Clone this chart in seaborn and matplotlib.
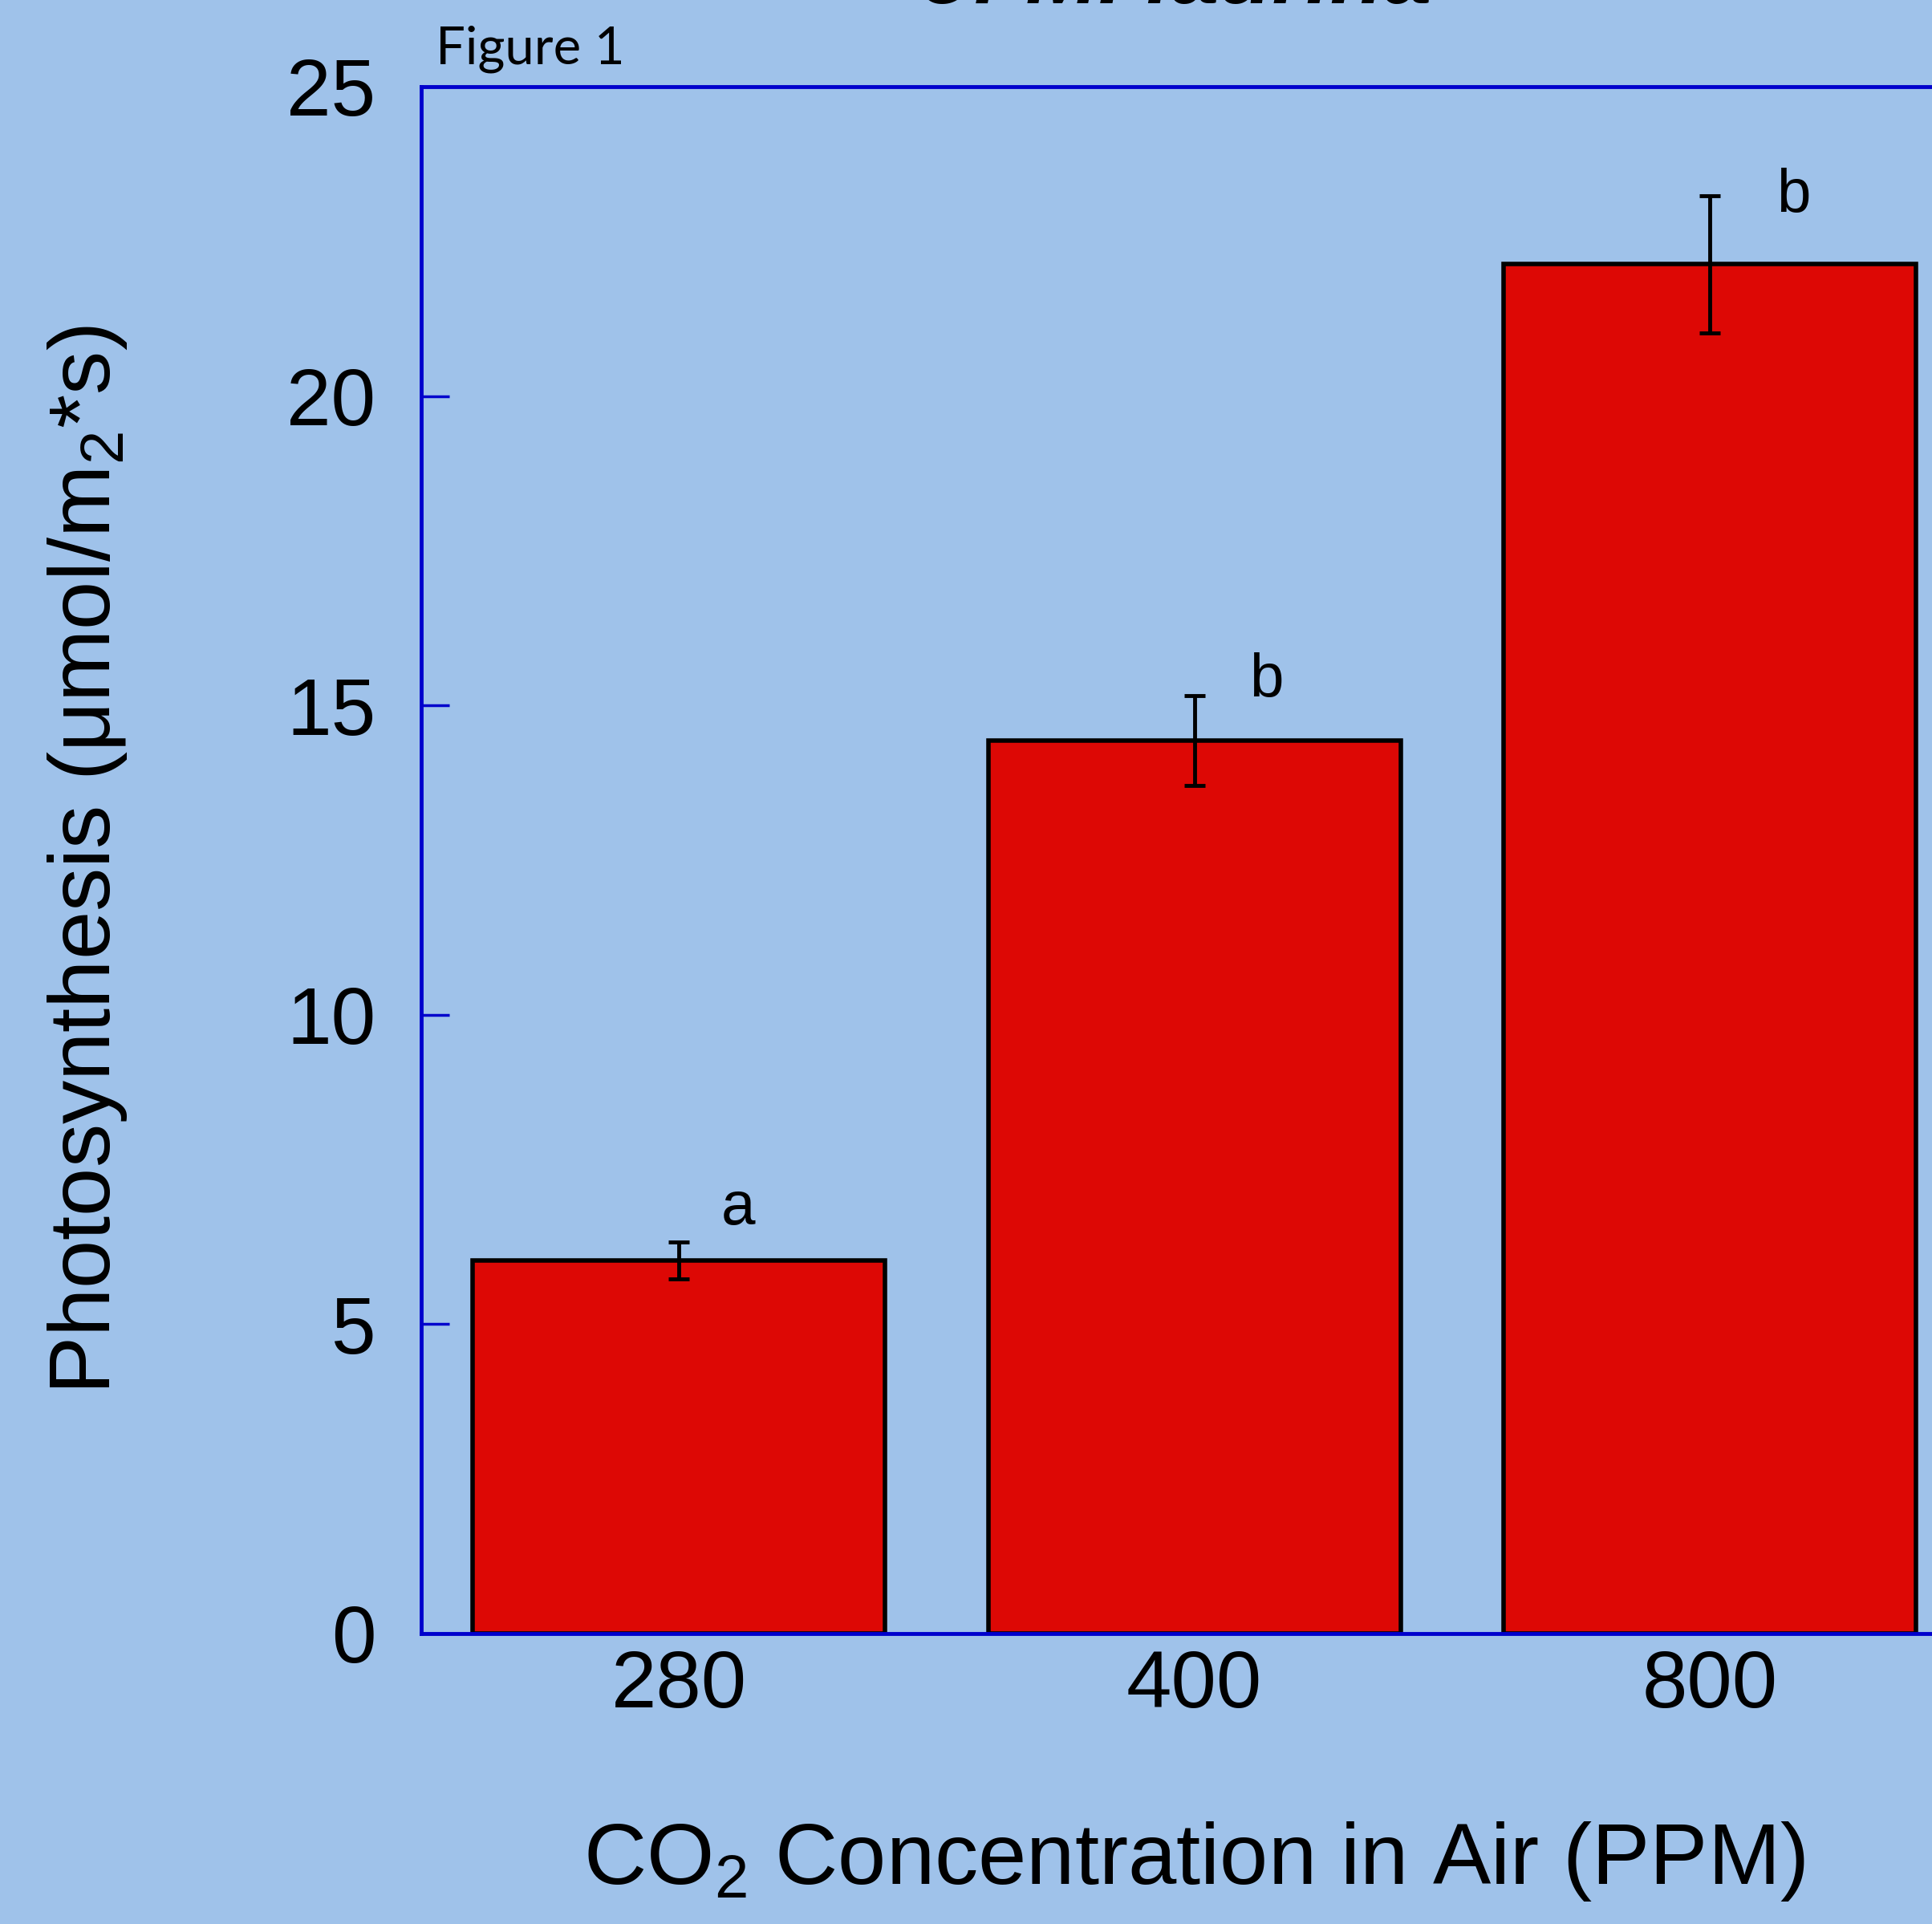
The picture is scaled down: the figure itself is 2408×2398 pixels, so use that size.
import pandas as pd
import matplotlib
matplotlib.use("Agg")
import matplotlib.pyplot as plt
import seaborn as sns

# data
co2_ppm = ["280", "400", "800"]
photo_mean = [6.03, 14.43, 22.13]
photo_se = [0.30, 0.73, 1.11]
sig_letters = ["a", "b", "b"]
letter_dx = [0.114, 0.14, 0.162]
letter_y = [6.61, 15.14, 22.97]

bg = "#9fc2ea"
blue = "#0000cc"

sns.set_style("ticks")
plt.rcParams["font.family"] = ["Liberation Sans", "DejaVu Sans"]
plt.rcParams["mathtext.default"] = "regular"
plt.rcParams["text.color"] = "black"
plt.rcParams["axes.labelcolor"] = "black"

df = pd.DataFrame({"co2": co2_ppm, "photo": photo_mean})

fig = plt.figure(figsize=(24.08, 23.98), dpi=100, facecolor=bg)
ax = fig.add_axes([0.2181, 0.151, 0.8003, 0.804])
ax.set_facecolor(bg)

sns.barplot(data=df, x="co2", y="photo", color="#dd0805", saturation=1,
            edgecolor="black", linewidth=4, width=0.8, errorbar=None, ax=ax)
ax.errorbar(range(len(co2_ppm)), photo_mean, yerr=photo_se, fmt="none",
            ecolor="black", elinewidth=3.5, capsize=9.5, capthick=3.5, zorder=5)

# significance letters
for i, (lab, dx, y) in enumerate(zip(sig_letters, letter_dx, letter_y)):
    ax.text(i + dx, y, lab, ha="center", va="baseline", fontsize=55)

ax.set_xlim(-0.5, 2.5)
ax.set_ylim(0, 25)
ax.set_yticks([0, 5, 10, 15, 20, 25])

for side in ["left", "top", "bottom", "right"]:
    ax.spines[side].set_color(blue)
    ax.spines[side].set_linewidth(3.5)

ax.tick_params(axis="y", direction="in", length=25, width=2.5, color=blue,
               labelsize=72, pad=41, labelcolor="black")
ax.tick_params(axis="x", direction="in", length=0, labelsize=73, pad=14,
               labelcolor="black")

ax.set_xlabel("CO$_2$ Concentration in Air (PPM)", fontsize=78, va="top")
ax.xaxis.set_label_coords(0.5, -0.1205)
ax.set_ylabel("Photosynthesis (μmol/m$_2$*s)", fontsize=78)
ax.yaxis.set_label_coords(-0.189, 0.5)

ax.set_title("of M. laurina", fontsize=78, fontweight="bold", style="italic",
             x=0.488, y=1.0495, va="baseline")

fig.text(0.2255, 0.967, "Figure 1", fontsize=47, family=["Lato", "DejaVu Sans"],
         va="baseline")

fig.savefig("out.png", dpi=100, facecolor=bg)
